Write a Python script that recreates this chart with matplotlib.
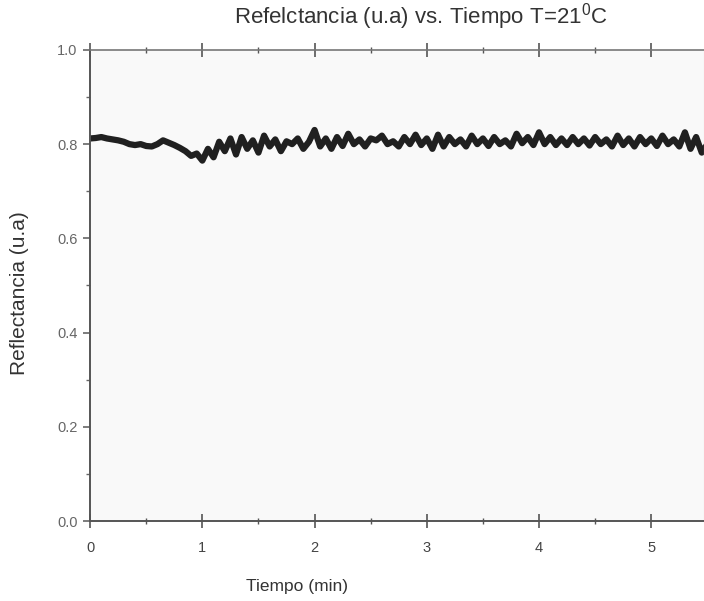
import numpy as np
import matplotlib
matplotlib.use("Agg")
import matplotlib.pyplot as plt
from matplotlib.ticker import MultipleLocator, FormatStrFormatter

plt.rcParams['font.family'] = ['Liberation Sans', 'DejaVu Sans']
plt.rcParams['mathtext.fontset'] = 'custom'
plt.rcParams['mathtext.rm'] = 'Liberation Sans'

# reflectance, one point every 0.05 min
t_step = 0.05
refl = [
    0.812, 0.813, 0.815, 0.812, 0.810, 0.808, 0.805, 0.800, 0.798, 0.800,
    0.796, 0.795, 0.800, 0.808, 0.803, 0.798, 0.792, 0.785, 0.775, 0.780,
    0.765, 0.790, 0.772, 0.805, 0.785, 0.812, 0.778, 0.815, 0.790, 0.808,
    0.782, 0.818, 0.795, 0.810, 0.785, 0.806, 0.800, 0.812, 0.790, 0.805,
    0.830, 0.795, 0.812, 0.790, 0.815, 0.796, 0.822, 0.800, 0.810, 0.795,
    0.812, 0.808, 0.818, 0.800, 0.806, 0.795, 0.815, 0.800, 0.820, 0.798,
    0.812, 0.790, 0.820, 0.795, 0.815, 0.800, 0.810, 0.795, 0.818, 0.800,
    0.812, 0.796, 0.815, 0.800, 0.808, 0.795, 0.822, 0.802, 0.815, 0.798,
    0.825, 0.800, 0.815, 0.798, 0.812, 0.798, 0.815, 0.800, 0.812, 0.797,
    0.815, 0.800, 0.810, 0.795, 0.818, 0.798, 0.812, 0.795, 0.815, 0.800,
    0.812, 0.796, 0.818, 0.800, 0.810, 0.795, 0.825, 0.790, 0.815, 0.782,
    0.800,
]
tiempo = np.arange(len(refl)) * t_step

fig = plt.figure(figsize=(7.04, 6.01), dpi=100)
ax = fig.add_axes([0.128, 0.133, 0.872, 0.784])
ax.set_facecolor('#f9f9f9')

ax.plot(tiempo, refl, color='#202020', lw=4.5, solid_joinstyle='round')

ax.set_xlim(0, 5.47)
ax.set_ylim(0, 1.0)
ax.xaxis.set_major_locator(MultipleLocator(1))
ax.xaxis.set_minor_locator(MultipleLocator(0.5))
ax.yaxis.set_major_locator(MultipleLocator(0.2))
ax.yaxis.set_minor_locator(MultipleLocator(0.1))
ax.xaxis.set_major_formatter(FormatStrFormatter('%d'))
ax.yaxis.set_major_formatter(FormatStrFormatter('%.1f'))

for s in ['left', 'bottom']:
    ax.spines[s].set_color('#555555')
    ax.spines[s].set_linewidth(1.4)
ax.spines['top'].set_color('#777777')
ax.spines['top'].set_linewidth(1.2)
ax.spines['right'].set_color('#dddddd')

ax.tick_params(axis='x', which='both', direction='inout', top=True,
               colors='#555555', labelcolor='#444444', labelsize=10.5, pad=9)
ax.tick_params(axis='x', which='major', length=10, width=1.2)
ax.tick_params(axis='x', which='minor', length=5, width=1.0)
ax.tick_params(axis='y', which='both', direction='out',
               colors='#666666', labelcolor='#666666', labelsize=10.5, pad=4)
ax.tick_params(axis='y', which='major', length=5, width=1.2)
ax.tick_params(axis='y', which='minor', length=3, width=1.0)

ax.set_xlabel('Tiempo (min)', fontsize=12.5, color='#333333')
ax.xaxis.set_label_coords(207 / 614, -0.122)
ax.set_ylabel('Reflectancia (u.a)', fontsize=15, color='#333333')
ax.yaxis.set_label_coords(-0.1, 0.484)
fig.text(421 / 704, 1 - 23 / 601, r'Refelctancia (u.a) vs. Tiempo T=21$^{\rm 0}$C',
         fontsize=16, color='#333333', ha='center', va='baseline')

fig.savefig('out.png', dpi=100)
